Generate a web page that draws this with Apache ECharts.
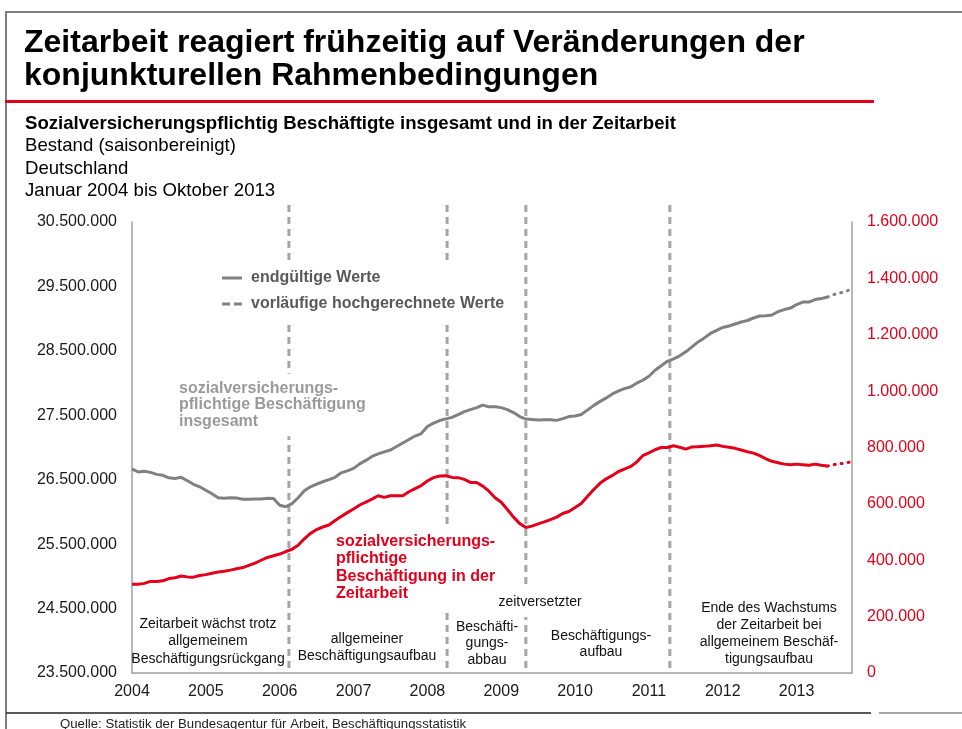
<!DOCTYPE html>
<html>
<head>
<meta charset="utf-8">
<script src="https://cdn.jsdelivr.net/npm/echarts@6/dist/echarts.min.js"></script>
<style>
html,body{margin:0;padding:0;background:#fff;}
#chart{width:962px;height:729px;}
</style>
</head>
<body>
<div id="chart"></div>
<script>
// ---- Data (thousands), monthly Jan 2004 .. Oct 2013 ----
const startYear = 2004;
const yearLabels = [2004, 2005, 2006, 2007, 2008, 2009, 2010, 2011, 2012, 2013];

// Sozialversicherungspflichtig Beschäftigte insgesamt (left axis), final values Jan 2004 .. Jun 2013
const totalFinal = [
  26668, 26620, 26630, 26614, 26583, 26568, 26529, 26519, 26537, 26483, 26429, 26390,
  26336, 26282, 26220, 26212, 26220, 26216, 26197, 26197, 26200, 26200, 26212, 26208,
  26104, 26081, 26128, 26220, 26328, 26390, 26432, 26468, 26502, 26537, 26607, 26638,
  26676, 26746, 26800, 26862, 26900, 26931, 26962, 27016, 27070, 27124, 27178, 27217,
  27325, 27379, 27418, 27444, 27468, 27511, 27557, 27588, 27619, 27658, 27631, 27631,
  27619, 27588, 27542, 27480, 27441, 27434, 27426, 27429, 27431, 27421, 27449, 27480,
  27488, 27511, 27580, 27650, 27712, 27766, 27828, 27874, 27913, 27940, 27998, 28044,
  28106, 28199, 28268, 28338, 28376, 28423, 28485, 28562, 28639, 28701, 28770, 28817,
  28863, 28886, 28917, 28948, 28971, 29010, 29041, 29044, 29056, 29110, 29141, 29164,
  29219, 29257, 29257, 29296, 29311, 29335
];
// provisional extrapolated values Jul 2013 .. Oct 2013
const totalProjected = [29373, 29397, 29427, 29458];

// Beschäftigte in der Zeitarbeit (right axis), final values Jan 2004 .. Jun 2013
const tempFinal = [
  315, 315, 318, 325, 325, 327, 335, 338, 344, 341, 340, 346,
  349, 354, 358, 361, 365, 370, 374, 382, 390, 400, 410, 416,
  422, 431, 439, 453, 476, 495, 509, 518, 525, 541, 555, 569,
  582, 596, 606, 617, 629, 623, 629, 629, 629, 643, 654, 665,
  681, 693, 699, 700, 694, 693, 687, 676, 676, 663, 645, 622,
  606, 580, 553, 530, 516, 521, 529, 536, 544, 553, 566, 573,
  587, 601, 626, 650, 672, 688, 700, 714, 723, 732, 748, 771,
  781, 792, 800, 800, 806, 801, 794, 802, 803, 804, 806, 809,
  804, 801, 797, 791, 785, 780, 771, 760, 751, 746, 741, 739,
  741, 739, 737, 741, 737, 734
];
const tempProjected = [739, 742, 746, 749];

// phase boundaries (months since Jan 2004)
const phaseBreaks = [25.5, 51.2, 64, 87.4];

// ---- helpers ----
const FONT = '"Liberation Sans", Arial, Helvetica, sans-serif';
const fmt = n => String(Math.round(n)).replace(/\B(?=(\d{3})+(?!\d))/g, '.');
const toPairs = (arr, offset) => arr.map((v, i) => [i + offset, v]);
function withLast(finalArr, projArr) {
  const n = finalArr.length;
  return [[n - 1, finalArr[n - 1]]].concat(toPairs(projArr, n));
}

const GRAY = '#808080';
const RED = '#e3001b';

function T(text, x, y, o) {
  o = o || {};
  return {
    type: 'text', x: x, y: y, z: 100, silent: true,
    style: {
      text: text,
      font: (o.weight || 'normal') + ' ' + (o.size || 14) + 'px ' + FONT,
      fill: o.color || '#111',
      align: o.align || 'left',
      verticalAlign: 'middle',
      lineHeight: o.lh || 17,
      backgroundColor: o.bg,
      padding: o.pad
    }
  };
}
function L(x1, y1, x2, y2, color, w) {
  return { type: 'line', z: 100, silent: true, shape: { x1, y1, x2, y2 }, style: { stroke: color, lineWidth: w } };
}

const chart = echarts.init(document.getElementById('chart'), null, { renderer: 'canvas' });

const option = {
  animation: false,
  backgroundColor: '#fff',
  grid: { left: 132, right: 110, top: 222, bottom: 56, containLabel: false },
  legend: {
    orient: 'vertical',
    left: 215, top: 264,
    padding: [6, 8, 9, 7],
    itemGap: 10, itemWidth: 20, itemHeight: 3,
    backgroundColor: '#fff',
    selectedMode: false,
    data: [
      { name: 'endgültige Werte', icon: 'path://M0,0H20V3H0Z', itemStyle: { color: GRAY } },
      { name: 'vorläufige hochgerechnete Werte', icon: 'path://M0,0H8V3H0Z M12,0H20V3H12Z', itemStyle: { color: GRAY } }
    ],
    textStyle: { fontFamily: FONT, fontSize: 16, lineHeight: 14, fontWeight: 'bold', color: '#595959', padding: [0, 0, 0, 4] }
  },
  xAxis: {
    type: 'value', min: 0, max: 117, interval: 12,
    axisLine: { show: true, lineStyle: { color: '#a0a0a0', width: 1.5 } },
    axisTick: { show: false }, splitLine: { show: false },
    axisLabel: {
      margin: 11, fontSize: 16, color: '#1a1a1a', fontFamily: FONT,
      showMaxLabel: false,
      formatter: v => (v % 12 === 0 ? String(yearLabels[v / 12] || startYear + v / 12) : '')
    }
  },
  yAxis: [
    {
      type: 'value', position: 'left', min: 23500, max: 30500, interval: 500,
      axisLine: { show: true, lineStyle: { color: '#a0a0a0', width: 1.5 } },
      axisTick: { show: false }, splitLine: { show: false },
      axisLabel: {
        margin: 15, fontSize: 16, color: '#1a1a1a', fontFamily: FONT,
        formatter: v => ((v - 23500) % 1000 === 0 ? fmt(v * 1000) : '')
      }
    },
    {
      type: 'value', position: 'right', min: 0, max: 1600, interval: 200,
      axisLine: { show: true, lineStyle: { color: '#a0a0a0', width: 1.5 } },
      axisTick: { show: false }, splitLine: { show: false },
      axisLabel: {
        margin: 15, fontSize: 16, color: '#e2001a', fontFamily: FONT,
        formatter: v => fmt(v * 1000)
      }
    }
  ],
  series: [
    {
      type: 'custom', name: 'phases', coordinateSystem: 'cartesian2d',
      xAxisIndex: 0, yAxisIndex: 1, z: 1, silent: true, clip: false,
      encode: { x: 0, y: 1 },
      data: phaseBreaks.map(m => [m, 0]),
      renderItem: (params, api) => {
        const m = api.value(0);
        const top = api.coord([m, 1600]);
        const bot = api.coord([m, 0]);
        return {
          type: 'line',
          shape: { x1: top[0], y1: top[1] - 17, x2: bot[0], y2: bot[1] - 5 },
          style: { stroke: '#a6a6a6', lineWidth: 3, lineDash: [7, 5] }
        };
      }
    },
    {
      name: 'endgültige Werte', type: 'line', yAxisIndex: 0, symbol: 'none', z: 3,
      data: toPairs(totalFinal, 0),
      lineStyle: { color: GRAY, width: 3 }, itemStyle: { color: GRAY }
    },
    {
      name: 'vorläufige hochgerechnete Werte', type: 'line', yAxisIndex: 0, symbol: 'none', z: 3,
      data: withLast(totalFinal, totalProjected),
      lineStyle: { color: GRAY, width: 3, type: [1, 6], cap: 'round' }, itemStyle: { color: GRAY }
    },
    {
      name: 'Zeitarbeit', type: 'line', yAxisIndex: 1, symbol: 'none', z: 3,
      data: toPairs(tempFinal, 0),
      lineStyle: { color: RED, width: 3 }, itemStyle: { color: RED }
    },
    {
      name: 'Zeitarbeit vorläufig', type: 'line', yAxisIndex: 1, symbol: 'none', z: 3,
      data: withLast(tempFinal, tempProjected),
      lineStyle: { color: RED, width: 3, type: [1, 6], cap: 'round' }, itemStyle: { color: RED }
    }
  ],
  graphic: { elements: [
    // frame
    L(5, 12, 962, 12, '#7f7f7f', 2),
    L(6, 12, 6, 729, '#7f7f7f', 2),
    L(5, 101.5, 874, 101.5, '#e2001a', 3),
    L(6, 713, 871, 713, '#222', 1.5),
    L(879, 713, 962, 713, '#888', 1.5),
    // titles
    T('Zeitarbeit reagiert frühzeitig auf Veränderungen der', 24, 43, { size: 32, weight: 'bold', color: '#000', lh: 34 }),
    T('konjunkturellen Rahmenbedingungen', 24, 76, { size: 32, weight: 'bold', color: '#000', lh: 34 }),
    T('Sozialversicherungspflichtig Beschäftigte insgesamt und in der Zeitarbeit', 25, 124, { size: 18.6, weight: 'bold', color: '#000', lh: 20 }),
    T('Bestand (saisonbereinigt)', 25, 146, { size: 18.6, color: '#000', lh: 20 }),
    T('Deutschland', 25, 169, { size: 18.6, color: '#000', lh: 20 }),
    T('Januar 2004 bis Oktober 2013', 25, 191, { size: 18.6, color: '#000', lh: 20 }),
    // series labels
    T('sozialversicherungs-\npflichtige Beschäftigung\ninsgesamt', 173, 405, { size: 16, weight: 'bold', color: '#9a9a9a', lh: 16.8, bg: '#fff', pad: [6, 6, 6, 6] }),
    T('sozialversicherungs-\npflichtige\nBeschäftigung in der\nZeitarbeit', 330, 567.5, { size: 16, weight: 'bold', color: '#e2001a', lh: 17.5, bg: '#fff', pad: [6, 6, 6, 6] }),
    // phase annotations
    T('Zeitarbeit wächst trotz\nallgemeinem\nBeschäftigungsrückgang', 208, 641.5, { align: 'center', lh: 17.3 }),
    T('allgemeiner\nBeschäftigungsaufbau', 367, 647.5, { align: 'center', lh: 17 }),
    T('Beschäfti-\ngungs-\nabbau', 487, 643.3, { align: 'center', lh: 16.5 }),
    T('zeitversetzter', 540, 602.5, { align: 'center', bg: '#fff', pad: [6, 4, 6, 4] }),
    T('Beschäftigungs-\naufbau', 601, 644, { align: 'center', lh: 16.5 }),
    T('Ende des Wachstums\nder Zeitarbeit bei\nallgemeinem Beschäf-\ntigungsaufbau', 769, 633.5, { align: 'center', lh: 16.8 }),
    // source
    T('Quelle: Statistik der Bundesagentur für Arbeit, Beschäftigungsstatistik', 60, 724, { size: 13.2, color: '#222' })
  ] }
};

chart.setOption(option);
</script>
</body>
</html>
